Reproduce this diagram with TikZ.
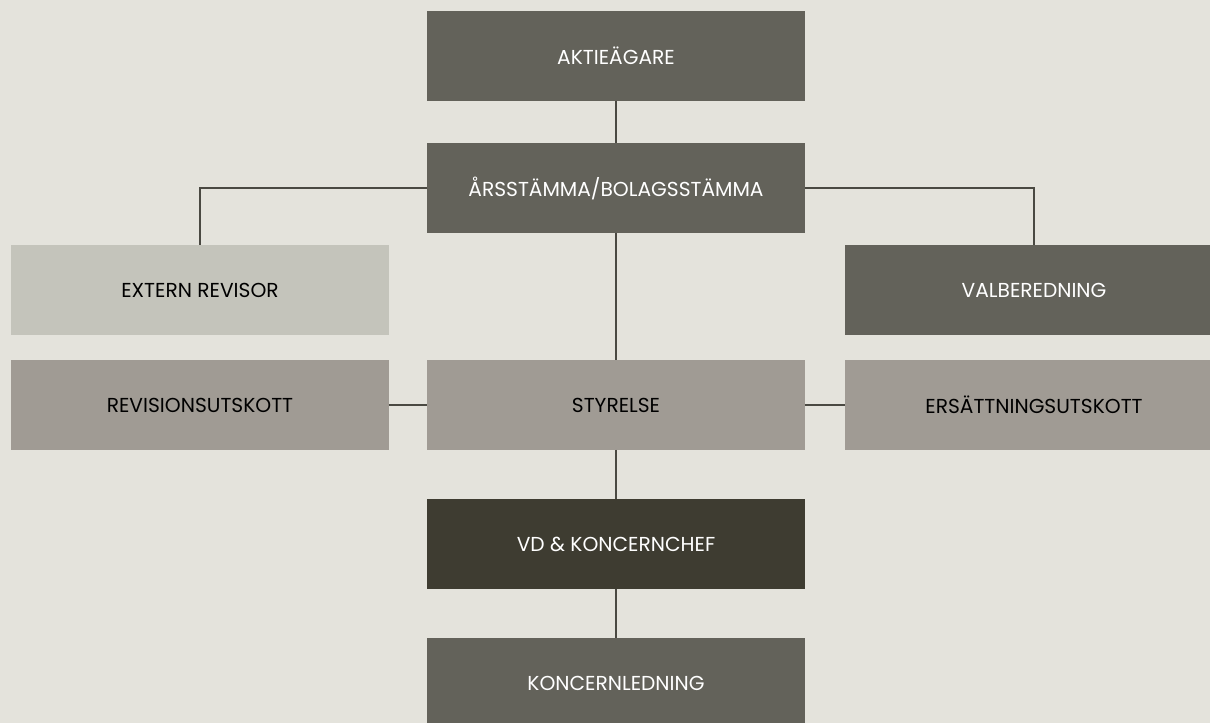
\documentclass[tikz,border=0pt]{standalone}
\usepackage{fontspec}
\setmainfont{Poppins}
\usetikzlibrary{positioning}

\definecolor{bgpaper}{HTML}{E4E3DC}
\definecolor{boxdark}{HTML}{63625A}
\definecolor{boxlight}{HTML}{C4C4BB}
\definecolor{boxmid}{HTML}{A09B94}
\definecolor{boxdeep}{HTML}{3E3C31}
\definecolor{linkgray}{HTML}{4A4942}

\begin{document}
\begin{tikzpicture}[
  x=0.02cm, y=-0.02cm,
  font=\fontsize{11.5}{13}\selectfont,
  % ---- Node styles ----
  block/.style={minimum width=7.56cm, minimum height=1.8cm, inner sep=0pt,
                outer sep=0pt, align=center},
  darkbox/.style={block, fill=boxdark, text=white},
  deepbox/.style={block, fill=boxdeep, text=white},
  lightbox/.style={block, fill=boxlight, text=black},
  midbox/.style={block, fill=boxmid, text=black},
  % ---- Lines ----
  link/.style={draw=linkgray, line width=0.6pt}
]

% ===== Canvas (1210 x 723 px) =====
\clip (0,0) rectangle (1210,723);
\fill[bgpaper] (0,0) rectangle (1210,723);

% ===== Boxes (x, y in px) =====
% Centre column
\node[darkbox]  (owners)  at (616, 56)  {AKTIEÄGARE};
\node[darkbox]  (agm)     at (616,188)  {ÅRSSTÄMMA/BOLAGSSTÄMMA};
\node[midbox]   (board)   at (616,405)  {STYRELSE};
\node[deepbox]  (ceo)     at (616,544)  {VD \& KONCERNCHEF};
\node[darkbox]  (mgmt)    at (616,683)  {KONCERNLEDNING};

% Left column
\node[lightbox] (auditor) at (200,290)  {EXTERN REVISOR};
\node[midbox]   (auditc)  at (200,405)  {REVISIONSUTSKOTT};

% Right column
\node[darkbox]  (nomc)    at (1034,290) {VALBEREDNING};
\node[midbox]   (remc)    at (1034,405) {ERSÄTTNINGSUTSKOTT};

% ===== Connections =====
\draw[link] (owners) -- (agm);
\draw[link] (agm.west) -| (auditor.north);
\draw[link] (agm.east) -| (nomc.north);
\draw[link] (agm) -- (board);
\draw[link] (auditc) -- (board);
\draw[link] (board) -- (remc);
\draw[link] (board) -- (ceo);
\draw[link] (ceo) -- (mgmt);

\end{tikzpicture}
\end{document}
